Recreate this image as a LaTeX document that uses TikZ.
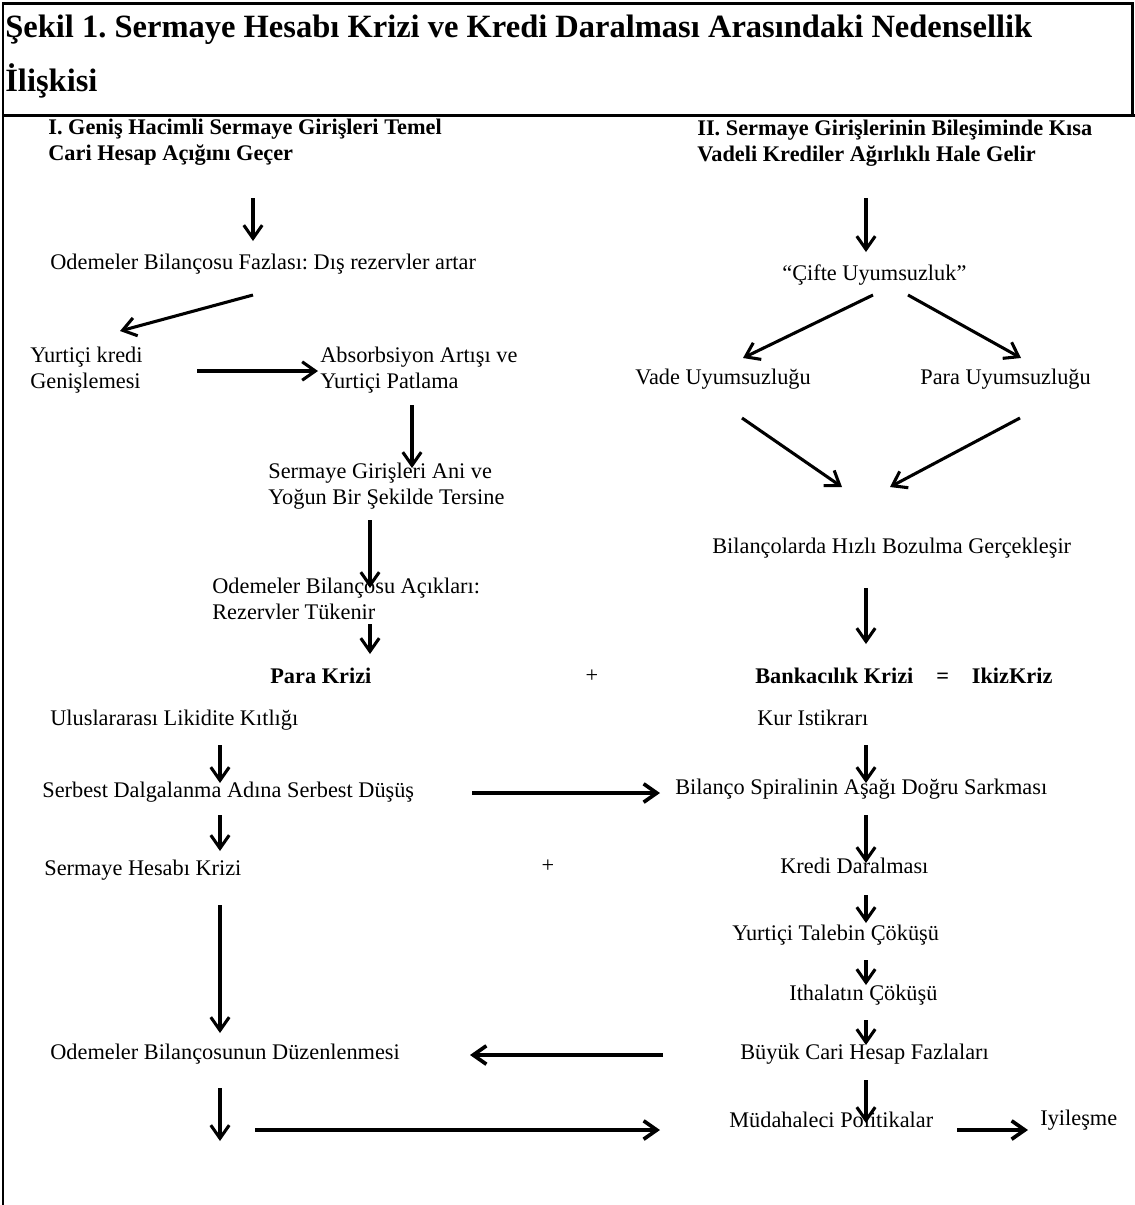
\documentclass[tikz,border=0pt]{standalone}
\usepackage{fontspec}
\setmainfont{Liberation Serif}
\usetikzlibrary{arrows.meta}
\frenchspacing
\begin{document}
\begin{tikzpicture}[x=0.02cm,y=-0.02cm,
  txt/.style={anchor=west,inner sep=0pt,align=left,font=\fontsize{12.7}{14.7}\selectfont,execute at begin node=\strut},
  hdr/.style={txt,font=\fontsize{12.7}{14.7}\selectfont\bfseries},
  ttl/.style={anchor=base west,inner sep=0pt,align=left,font=\fontsize{18.5}{30.5}\selectfont\bfseries},
  arr/.style={line width=1.75pt,-{Straight Barb[length=7.5pt,width=10.5pt]}},
  tarr/.style={arr,line width=2.1pt},
  frm/.style={line width=1.7pt}]
\useasboundingbox (0,0) rectangle (1135,1205);
% frame
\draw[frm] (3,1205) -- (3,3) -- (1132,3) -- (1132,115);
\draw[frm] (2,115) -- (1135,115);
% title (base anchor = baseline of the last line)
\node[ttl] (title) at (5,91) {Şekil 1. Sermaye Hesabı Krizi ve Kredi Daralması Arasındaki Nedensellik\\İlişkisi};
% left column
\node[hdr] (h1) at (48,144) {I. Geniş Hacimli Sermaye Girişleri Temel\\\strut Cari Hesap Açığını Geçer};
\node[txt] (ob1) at (50,264) {Odemeler Bilançosu Fazlası: Dış rezervler artar};
\node[txt] (ykg) at (30,372) {Yurtiçi kredi\\\strut Genişlemesi};
\node[txt] (abs) at (320,372) {Absorbsiyon Artışı ve\\\strut Yurtiçi Patlama};
\node[txt] (sgi) at (268,488) {Sermaye Girişleri Ani ve\\\strut Yoğun Bir Şekilde Tersine};
\node[txt] (oba) at (212,603) {Odemeler Bilançosu Açıkları:\\\strut Rezervler Tükenir};
\node[hdr] (pk) at (270,678) {Para Krizi};
\node[txt,anchor=center] (plus1) at (592,677) {+};
\node[txt] (ulk) at (50,720) {Uluslararası Likidite Kıtlığı};
\node[txt] (sdf) at (42,792) {Serbest Dalgalanma Adına Serbest Düşüş};
\node[txt] (shk) at (44,870) {Sermaye Hesabı Krizi};
\node[txt,anchor=center] (plus2) at (548,867) {+};
\node[txt] (obd) at (50,1054) {Odemeler Bilançosunun Düzenlenmesi};
% right column
\node[hdr] (h2) at (697,145) {II. Sermaye Girişlerinin Bileşiminde Kısa\\\strut Vadeli Krediler Ağırlıklı Hale Gelir};
\node[txt] (cu) at (782,275) {“Çifte Uyumsuzluk”};
\node[txt] (vu) at (635,379) {Vade Uyumsuzluğu};
\node[txt] (pu) at (920,379) {Para Uyumsuzluğu};
\node[txt] (bhb) at (712,548) {Bilançolarda Hızlı Bozulma Gerçekleşir};
\node[hdr] (bk) at (755,678) {Bankacılık Krizi\hspace{13pt}=\hspace{13pt}IkizKriz};
\node[txt] (kur) at (757,720) {Kur Istikrarı};
\node[txt] (bsa) at (675,789) {Bilanço Spiralinin Aşağı Doğru Sarkması};
\node[txt] (kd) at (780,868) {Kredi Daralması};
\node[txt] (ytc) at (732,935) {Yurtiçi Talebin Çöküşü};
\node[txt] (ic) at (789,995) {Ithalatın Çöküşü};
\node[txt] (bch) at (740,1054) {Büyük Cari Hesap Fazlaları};
\node[txt] (mp) at (729,1122) {Müdahaleci Politikalar};
\node[txt] (iy) at (1040,1120) {Iyileşme};
% connector end points
\coordinate (h1o) at (253,198);   \coordinate (ob1i) at (253,241);
\coordinate (ob1o) at (253,295);  \coordinate (ykgi) at (120,331);
\coordinate (ykgo) at (197,371);  \coordinate (absi) at (318,371);
\coordinate (abso) at (412,405);  \coordinate (sgii) at (412,468);
\coordinate (sgio) at (370,520);  \coordinate (obai) at (370,588);
\coordinate (obao) at (370,624);  \coordinate (pki) at (370,654);
\coordinate (h2o) at (866,198);   \coordinate (cui) at (866,252);
\coordinate (cuo1) at (873,295);  \coordinate (vui) at (743,358);
\coordinate (cuo2) at (908,295);  \coordinate (pui) at (1021,358);
\coordinate (vuo) at (742,418);   \coordinate (bhbi1) at (842,487);
\coordinate (puo) at (1020,418);  \coordinate (bhbi2) at (890,487);
\coordinate (bhbo) at (866,588);  \coordinate (bki) at (866,644);
\coordinate (ulko) at (220,745);  \coordinate (sdfi) at (220,783);
\coordinate (kuro) at (866,745);  \coordinate (bsai) at (866,783);
\coordinate (sdfo) at (472,793);  \coordinate (bsai2) at (660,793);
\coordinate (sdfo2) at (220,815); \coordinate (shki) at (220,851);
\coordinate (bsao) at (866,815);  \coordinate (kdi) at (866,863);
\coordinate (kdo) at (866,895);   \coordinate (ytci) at (866,923);
\coordinate (ytco) at (866,960);  \coordinate (ici) at (866,985);
\coordinate (ico) at (866,1020);  \coordinate (bchi) at (866,1045);
\coordinate (shko) at (220,905);  \coordinate (obdi) at (220,1033);
\coordinate (bcho) at (663,1055); \coordinate (obdi2) at (470,1055);
\coordinate (bcho2) at (866,1080);\coordinate (mpi) at (866,1123);
\coordinate (obdo) at (220,1088); \coordinate (obdend) at (220,1141);
\coordinate (lowo) at (255,1130); \coordinate (mpi2) at (660,1130);
\coordinate (mpo) at (957,1130);  \coordinate (iyi) at (1028,1130);
% connectors
\draw[arr] (h1o) -- (ob1i);
\draw[arr] (ob1o) -- (ykgi);
\draw[arr] (ykgo) -- (absi);
\draw[arr] (abso) -- (sgii);
\draw[arr] (sgio) -- (obai);
\draw[arr] (obao) -- (pki);
\draw[arr] (h2o) -- (cui);
\draw[arr] (cuo1) -- (vui);
\draw[arr] (cuo2) -- (pui);
\draw[arr] (vuo) -- (bhbi1);
\draw[arr] (puo) -- (bhbi2);
\draw[arr] (bhbo) -- (bki);
\draw[arr] (ulko) -- (sdfi);
\draw[arr] (kuro) -- (bsai);
\draw[tarr] (sdfo) -- (bsai2);
\draw[arr] (sdfo2) -- (shki);
\draw[arr] (bsao) -- (kdi);
\draw[arr] (kdo) -- (ytci);
\draw[arr] (ytco) -- (ici);
\draw[arr] (ico) -- (bchi);
\draw[arr] (shko) -- (obdi);
\draw[tarr] (bcho) -- (obdi2);
\draw[arr] (bcho2) -- (mpi);
\draw[arr] (obdo) -- (obdend);
\draw[tarr] (lowo) -- (mpi2);
\draw[tarr] (mpo) -- (iyi);
\end{tikzpicture}
\end{document}
